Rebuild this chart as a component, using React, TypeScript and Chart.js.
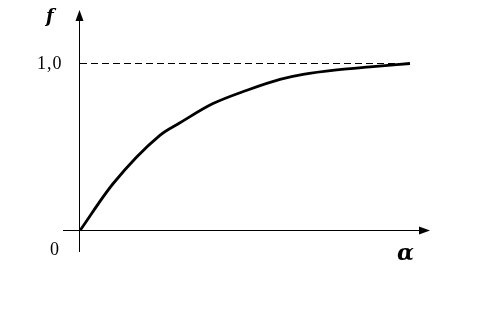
import React, { useEffect, useRef } from "react";
import { Chart, registerables } from "chart.js";

Chart.register(...registerables);

const alphaValues = [0, 0.1, 0.242, 0.303, 0.403, 0.506, 0.606, 0.676, 0.779, 0.879, 1.0];
const fValues = [0, 0.28, 0.57, 0.645, 0.76, 0.84, 0.905, 0.935, 0.962, 0.98, 1.0];
const asymptoteX = [0, 1];
const asymptoteY = [1, 1];
const yTickLabel = "1,0";
const originLabel = "0";
const xAxisTitle = "α";
const yAxisTitle = "f";

const X_MIN = -0.0515;
const X_MAX = 1.0606;
const Y_MIN = -0.1287;
const Y_MAX = 1.3204;

const SERIF = "\"Liberation Serif\", \"Times New Roman\", Times, serif";
const SERIF2 = "\"DejaVu Serif\", serif";

const axesPlugin = {
  id: "axesPlugin",
  afterDatasetsDraw(chart: any) {
    const { ctx, scales } = chart;
    const xs = scales.x;
    const ys = scales.y;
    const x0 = Math.floor(xs.getPixelForValue(0)) + 0.5;
    const y0 = Math.floor(ys.getPixelForValue(0)) + 0.5;
    const xL = xs.getPixelForValue(X_MIN);
    const xR = xs.getPixelForValue(X_MAX);
    const yB = ys.getPixelForValue(Y_MIN);
    const yT = ys.getPixelForValue(Y_MAX);
    ctx.save();
    ctx.strokeStyle = "#000";
    ctx.fillStyle = "#000";
    ctx.lineWidth = 1;
    ctx.beginPath();
    ctx.moveTo(x0, yB);
    ctx.lineTo(x0, yT + 8);
    ctx.stroke();
    ctx.beginPath();
    ctx.moveTo(x0, yT);
    ctx.lineTo(x0 - 4, yT + 11);
    ctx.lineTo(x0 + 4, yT + 11);
    ctx.closePath();
    ctx.fill();
    ctx.beginPath();
    ctx.moveTo(xL, y0);
    ctx.lineTo(xR - 8, y0);
    ctx.stroke();
    ctx.beginPath();
    ctx.moveTo(xR, y0);
    ctx.lineTo(xR - 11, y0 - 4);
    ctx.lineTo(xR - 11, y0 + 4);
    ctx.closePath();
    ctx.fill();
    ctx.textBaseline = "alphabetic";
    ctx.textAlign = "left";
    ctx.font = "18px " + SERIF;
    (ctx as any).letterSpacing = "1px";
    ctx.fillText(yTickLabel, 37, ys.getPixelForValue(1) + 5);
    ctx.fillText(originLabel, 50, y0 + 24);
    (ctx as any).letterSpacing = "0px";
    ctx.font = "italic bold 18px " + SERIF2;
    ctx.fillText(yAxisTitle, 46, yT + 12);
    ctx.font = "italic bold 22px " + SERIF2;
    ctx.fillText(xAxisTitle, 397, y0 + 29);
    ctx.restore();
  },
};

export default function App() {
  const canvasRef = useRef<HTMLCanvasElement | null>(null);

  useEffect(() => {
    if (!canvasRef.current) return;
    const chart = new Chart(canvasRef.current, {
      type: "scatter",
      data: {
        datasets: [
          {
            data: asymptoteX.map((x, i) => ({ x, y: asymptoteY[i] })),
            showLine: true,
            borderColor: "#000",
            borderWidth: 1,
            borderDash: [7, 4],
            pointRadius: 0,
          },
          {
            data: alphaValues.map((x, i) => ({ x, y: fValues[i] })),
            showLine: true,
            borderColor: "#000",
            borderWidth: 2.8,
            pointRadius: 0,
            cubicInterpolationMode: "monotone",
          },
        ],
      },
      options: {
        responsive: false,
        animation: false,
        layout: { padding: { left: 63, right: 56, top: 10, bottom: 76 } },
        plugins: { legend: { display: false }, tooltip: { enabled: false } },
        scales: {
          x: { type: "linear", min: X_MIN, max: X_MAX, display: false },
          y: { type: "linear", min: Y_MIN, max: Y_MAX, display: false },
        },
      },
      plugins: [axesPlugin],
    } as any);
    return () => chart.destroy();
  }, []);

  return (
    <div style={{ position: "fixed", left: 0, top: 0, width: 486, height: 328, background: "#fff" }}>
      <canvas ref={canvasRef} width={486} height={328} />
    </div>
  );
}
